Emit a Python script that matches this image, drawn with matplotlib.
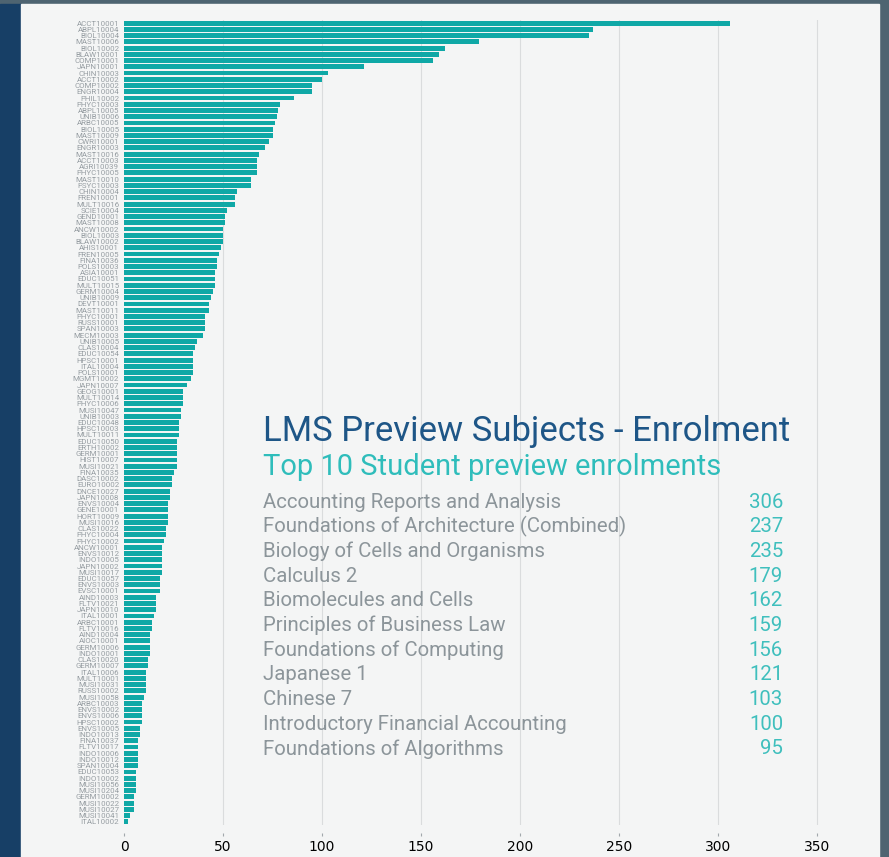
import matplotlib.pyplot as plt
import matplotlib.patches as patches

# Subject codes and preview enrolments (largest first)
subjects = [
    'ACCT10001', 'ABPL10004', 'BIOL10004', 'MAST10006', 'BIOL10002', 'BLAW10001',
    'COMP10001', 'JAPN10001', 'CHIN10003', 'ACCT10002', 'COMP10002', 'ENGR10004',
    'PHIL10002', 'PHYC10003', 'ABPL10005', 'UNIB10006', 'ARBC10005', 'BIOL10005',
    'MAST10009', 'CWRI10001', 'ENGR10003', 'MAST10016', 'ACCT10003', 'AGRI10039',
    'PHYC10005', 'MAST10010', 'PSYC10003', 'CHIN10004', 'FREN10001', 'MULT10016',
    'SCIE10004', 'GEND10001', 'MAST10008', 'ANCW10002', 'BIOL10003', 'BLAW10002',
    'AHIS10001', 'FREN10005', 'FINA10036', 'POLS10003', 'ASIA10001', 'EDUC10051',
    'MULT10015', 'GERM10004', 'UNIB10009', 'DEVT10001', 'MAST10011', 'PHYC10001',
    'RUSS10001', 'SPAN10003', 'MECM10003', 'UNIB10005', 'CLAS10004', 'EDUC10054',
    'HPSC10001', 'ITAL10004', 'POLS10001', 'MGMT10002', 'JAPN10007', 'GEOG10001',
    'MULT10014', 'PHYC10006', 'MUSI10047', 'UNIB10003', 'EDUC10048', 'HPSC10003',
    'MULT10011', 'EDUC10050', 'ERTH10002', 'GERM10001', 'HIST10007', 'MUSI10021',
    'FINA10035', 'DASC10002', 'EURO10002', 'DNCE10027', 'JAPN10008', 'ENVS10004',
    'GENE10001', 'HORT10009', 'MUSI10016', 'CLAS10022', 'PHYC10004', 'PHYC10002',
    'ANCW10001', 'ENVS10012', 'INDO10005', 'JAPN10002', 'MUSI10017', 'EDUC10057',
    'ENVS10003', 'EVSC10001', 'AIND10003', 'FLTV10021', 'JAPN10010', 'ITAL10001',
    'ARBC10001', 'FLTV10016', 'AIND10004', 'AIOC10001', 'GERM10006', 'INDO10001',
    'CLAS10020', 'GERM10007', 'ITAL10006', 'MULT10001', 'MUSI10031', 'RUSS10002',
    'MUSI10058', 'ARBC10003', 'ENVS10002', 'ENVS10006', 'HPSC10002', 'ENVS10005',
    'INDO10013', 'FINA10037', 'FLTV10017', 'INDO10006', 'INDO10012', 'SPAN10004',
    'EDUC10053', 'INDO10002', 'MUSI10056', 'MUSI10204', 'GERM10002', 'MUSI10022',
    'MUSI10027', 'MUSI10041', 'ITAL10002',
]
enrolments = [
    306, 237, 235, 179, 162, 159, 156, 121, 103, 100, 95, 95,
    86, 79, 78, 77, 76, 75, 75, 73, 71, 68, 67, 67,
    67, 64, 64, 57, 56, 56, 52, 51, 51, 50, 50, 50,
    49, 48, 47, 47, 46, 46, 46, 45, 44, 43, 43, 41,
    41, 41, 40, 37, 36, 35, 35, 35, 35, 34, 32, 30,
    30, 30, 29, 29, 28, 28, 28, 27, 27, 27, 27, 27,
    25, 24, 24, 23, 23, 22, 22, 22, 22, 21, 21, 20,
    19, 19, 19, 19, 19, 18, 18, 18, 16, 16, 16, 15,
    14, 14, 13, 13, 13, 13, 12, 12, 11, 11, 11, 11,
    10, 9, 9, 9, 9, 8, 8, 7, 7, 7, 7, 7,
    6, 6, 6, 6, 5, 5, 5, 3, 2,
]

# Top list shown in the text panel
top_names = [
    'Accounting Reports and Analysis', 'Foundations of Architecture (Combined)',
    'Biology of Cells and Organisms', 'Calculus 2', 'Biomolecules and Cells',
    'Principles of Business Law', 'Foundations of Computing', 'Japanese 1',
    'Chinese 7', 'Introductory Financial Accounting', 'Foundations of Algorithms',
]
top_values = [306, 237, 235, 179, 162, 159, 156, 121, 103, 100, 95]

x_ticks = [0, 50, 100, 150, 200, 250, 300, 350]

W, H = 889, 857
fig = plt.figure(figsize=(W / 100, H / 100), dpi=100, facecolor='#4e6471')

# background panels
fig.patches.append(patches.Rectangle((0, 0), 21 / W, 1 - 4 / H, transform=fig.transFigure,
                                     color='#173f66', zorder=-10))
fig.patches.append(patches.Rectangle((21 / W, 0), (879 - 21) / W, 1 - 4 / H,
                                     transform=fig.transFigure, color='#f4f5f5', zorder=-10))

ax = fig.add_axes([124 / W, 1 - 825 / H, (837 - 124) / W, (825 - 20) / H])
ax.set_facecolor('none')

pos = list(range(len(subjects)))
ax.barh(pos, enrolments, height=0.78, color='#0fa8a6', zorder=3)
ax.set_ylim(len(subjects) - 0.5, -0.5)
ax.set_xlim(0, 360)

ax.set_yticks(pos)
ax.set_yticklabels(subjects, fontsize=5.7, color='#979ea3', family='Roboto')
ax.tick_params(axis='y', length=0, pad=3.5)

ax.set_xticks(x_ticks)
ax.set_xticklabels([str(t) for t in x_ticks], fontsize=5.6, color='#a2a8ac',
                   family='Roboto', fontweight='light')
ax.tick_params(axis='x', length=2.5, width=0.8, color='#a2a8ac', pad=2.5, direction='out')
for s in ax.spines.values():
    s.set_visible(False)
ax.spines['bottom'].set_position(('outward', 6))

ax.grid(axis='x', color='#dadcdd', linewidth=0.8, zorder=0)
ax.get_xgridlines()[0].set_visible(False)

# text panel
fig.text(263 / W, 1 - 431 / H, 'LMS Preview Subjects - Enrolment', fontsize=25,
         color='#1e5687', family='Roboto', va='center', ha='left')
fig.text(263 / W, 1 - 467 / H, 'Top 10 Student preview enrolments', fontsize=20.9,
         color='#2fbdbb', family='Roboto', va='center', ha='left')
for i, (name, val) in enumerate(zip(top_names, top_values)):
    y = 1 - (502 + i * 24.7) / H
    fig.text(263 / W, y, name, fontsize=14.7, color='#8c959a', family='Roboto',
             va='center', ha='left')
    fig.text(783 / W, y, str(val), fontsize=14.7, color='#3fbfbd', family='Roboto',
             va='center', ha='right')

fig.savefig('out.png', dpi=100, facecolor=fig.get_facecolor())
